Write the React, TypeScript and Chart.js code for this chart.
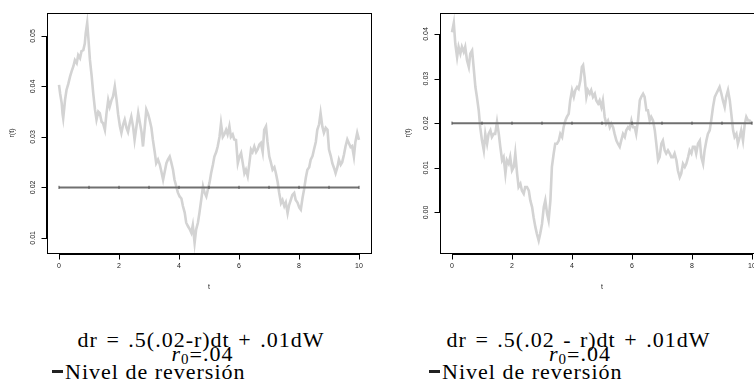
import React, { useEffect, useRef } from "react";
import { Chart, registerables } from "chart.js";

Chart.register(...registerables);

// ---------- data ----------
const T_LEFT = [0.00,0.04,0.09,0.12,0.14,0.18,0.20,0.25,0.31,0.37,0.42,0.48,0.53,0.59,0.64,0.70,0.75,0.81,0.86,0.89,0.94,0.98,1.03,1.09,1.14,1.20,1.25,1.31,1.36,1.42,1.47,1.53,1.58,1.64,1.69,1.75,1.80,1.86,1.92,1.97,2.03,2.08,2.14,2.19,2.25,2.30,2.36,2.41,2.47,2.52,2.58,2.64,2.69,2.75,2.80,2.86,2.91,2.97,3.02,3.08,3.13,3.19,3.24,3.30,3.36,3.41,3.47,3.52,3.58,3.63,3.69,3.74,3.80,3.85,3.91,3.96,4.02,4.08,4.13,4.19,4.24,4.30,4.35,4.41,4.46,4.52,4.57,4.63,4.68,4.74,4.80,4.85,4.91,4.96,5.02,5.07,5.13,5.18,5.24,5.29,5.35,5.40,5.46,5.51,5.57,5.62,5.68,5.73,5.79,5.84,5.90,5.96,6.01,6.07,6.12,6.18,6.23,6.29,6.34,6.40,6.45,6.51,6.57,6.62,6.68,6.73,6.79,6.84,6.90,6.95,7.01,7.06,7.12,7.18,7.23,7.29,7.34,7.40,7.45,7.51,7.56,7.62,7.67,7.73,7.78,7.84,7.89,7.95,8.01,8.06,8.12,8.17,8.23,8.28,8.34,8.39,8.45,8.50,8.56,8.61,8.67,8.72,8.78,8.83,8.89,8.95,9.00,9.06,9.11,9.17,9.22,9.28,9.33,9.39,9.44,9.50,9.55,9.61,9.66,9.72,9.77,9.83,9.88,9.94,10.00];
const R_LEFT = [0.0403,0.0385,0.0367,0.0345,0.0337,0.0360,0.0373,0.0393,0.0405,0.0420,0.0430,0.0440,0.0452,0.0446,0.0462,0.0456,0.0470,0.0472,0.0485,0.0505,0.0526,0.0495,0.0453,0.0420,0.0387,0.0354,0.0334,0.0350,0.0347,0.0330,0.0327,0.0314,0.0345,0.0373,0.0360,0.0373,0.0380,0.0400,0.0373,0.0345,0.0321,0.0308,0.0325,0.0334,0.0318,0.0310,0.0328,0.0340,0.0320,0.0294,0.0320,0.0347,0.0330,0.0310,0.0281,0.0320,0.0354,0.0345,0.0334,0.0318,0.0294,0.0270,0.0248,0.0255,0.0245,0.0232,0.0215,0.0230,0.0248,0.0255,0.0261,0.0250,0.0235,0.0215,0.0202,0.0190,0.0182,0.0178,0.0163,0.0150,0.0130,0.0123,0.0118,0.0110,0.0125,0.0090,0.0116,0.0130,0.0149,0.0175,0.0202,0.0190,0.0182,0.0195,0.0210,0.0228,0.0245,0.0261,0.0270,0.0281,0.0300,0.0327,0.0300,0.0305,0.0314,0.0305,0.0321,0.0300,0.0305,0.0295,0.0294,0.0248,0.0260,0.0268,0.0250,0.0228,0.0235,0.0222,0.0245,0.0275,0.0270,0.0281,0.0270,0.0275,0.0285,0.0288,0.0270,0.0314,0.0321,0.0290,0.0261,0.0250,0.0235,0.0240,0.0228,0.0210,0.0189,0.0169,0.0175,0.0163,0.0170,0.0149,0.0165,0.0176,0.0185,0.0189,0.0175,0.0170,0.0160,0.0156,0.0180,0.0196,0.0220,0.0235,0.0240,0.0255,0.0262,0.0275,0.0290,0.0314,0.0325,0.0347,0.0320,0.0308,0.0318,0.0314,0.0275,0.0262,0.0248,0.0238,0.0228,0.0240,0.0255,0.0245,0.0250,0.0265,0.0281,0.0295,0.0288,0.0280,0.0282,0.0261,0.0290,0.0308,0.0294];

const T_RIGHT = [0.00,0.06,0.11,0.17,0.22,0.28,0.33,0.39,0.44,0.50,0.56,0.61,0.67,0.72,0.78,0.83,0.89,0.94,1.00,1.06,1.11,1.17,1.22,1.28,1.33,1.39,1.44,1.50,1.56,1.61,1.67,1.72,1.78,1.83,1.89,1.94,2.00,2.06,2.11,2.17,2.22,2.28,2.33,2.39,2.44,2.50,2.56,2.61,2.67,2.72,2.78,2.83,2.89,2.94,3.00,3.06,3.11,3.17,3.22,3.28,3.33,3.39,3.44,3.50,3.56,3.61,3.67,3.72,3.78,3.83,3.89,3.94,4.00,4.06,4.11,4.17,4.22,4.28,4.33,4.37,4.42,4.48,4.53,4.59,4.64,4.70,4.76,4.81,4.87,4.92,4.98,5.03,5.09,5.14,5.20,5.26,5.31,5.37,5.42,5.48,5.53,5.59,5.64,5.70,5.76,5.81,5.87,5.92,5.98,6.03,6.09,6.14,6.20,6.26,6.31,6.37,6.42,6.48,6.53,6.59,6.64,6.70,6.76,6.81,6.87,6.92,6.98,7.03,7.09,7.14,7.20,7.26,7.31,7.37,7.42,7.48,7.53,7.59,7.64,7.70,7.76,7.81,7.87,7.92,7.98,8.03,8.09,8.14,8.20,8.26,8.31,8.37,8.42,8.48,8.53,8.59,8.64,8.70,8.76,8.81,8.87,8.92,8.98,9.03,9.09,9.14,9.20,9.26,9.31,9.37,9.42,9.48,9.53,9.59,9.64,9.70,9.76,9.81,9.87,9.92,10.00];
const R_RIGHT = [0.0404,0.0425,0.0378,0.0348,0.0371,0.0356,0.0371,0.0360,0.0371,0.0341,0.0326,0.0356,0.0363,0.0326,0.0281,0.0259,0.0229,0.0191,0.0161,0.0139,0.0176,0.0154,0.0176,0.0184,0.0169,0.0176,0.0176,0.0203,0.0176,0.0147,0.0117,0.0124,0.0087,0.0117,0.0109,0.0124,0.0094,0.0102,0.0132,0.0087,0.0057,0.0064,0.0049,0.0042,0.0057,0.0057,0.0049,0.0027,0.0012,-0.0011,-0.0033,-0.0048,-0.0063,-0.0048,-0.0026,0.0012,0.0027,-0.0003,-0.0018,0.0027,0.0102,0.0132,0.0154,0.0154,0.0161,0.0176,0.0169,0.0191,0.0206,0.0214,0.0221,0.0251,0.0274,0.0259,0.0274,0.0281,0.0277,0.0296,0.0326,0.0330,0.0304,0.0259,0.0274,0.0266,0.0274,0.0259,0.0266,0.0251,0.0244,0.0251,0.0236,0.0251,0.0214,0.0199,0.0206,0.0191,0.0199,0.0191,0.0176,0.0161,0.0154,0.0147,0.0161,0.0176,0.0169,0.0184,0.0191,0.0187,0.0206,0.0191,0.0191,0.0176,0.0206,0.0251,0.0259,0.0266,0.0259,0.0229,0.0229,0.0206,0.0214,0.0206,0.0184,0.0154,0.0117,0.0124,0.0154,0.0161,0.0139,0.0132,0.0139,0.0132,0.0124,0.0124,0.0132,0.0117,0.0094,0.0079,0.0087,0.0109,0.0102,0.0109,0.0124,0.0139,0.0132,0.0147,0.0147,0.0132,0.0154,0.0161,0.0124,0.0109,0.0139,0.0161,0.0176,0.0184,0.0206,0.0236,0.0259,0.0266,0.0274,0.0281,0.0266,0.0251,0.0236,0.0259,0.0274,0.0251,0.0221,0.0184,0.0169,0.0176,0.0154,0.0169,0.0184,0.0161,0.0199,0.0214,0.0206,0.0206,0.0199];

const REV_T = [0,1,2,3,4,5,6,7,8,9,10];
const REV_LEVEL = [0.02,0.02,0.02,0.02,0.02,0.02,0.02,0.02,0.02,0.02,0.02];

const X_TICKS = [0, 2, 4, 6, 8, 10];
const Y_TICKS_LEFT = [0.01, 0.02, 0.03, 0.04, 0.05];
const Y_TICKS_RIGHT = [0.0, 0.01, 0.02, 0.03, 0.04];
const X_TITLE = "t";
const Y_TITLE = "r(t)";

type PanelCfg = {
  t: number[];
  r: number[];
  yMin: number;
  yMax: number;
  yTicks: number[];
  width: number;
  padLeft: number;
  padRight: number;
  yTitleOffset: number;
};

function makeAxesPlugin(cfg: PanelCfg) {
  return {
    id: "rStyleAxes",
    afterDraw(chart: any) {
      const { ctx, chartArea: a, scales } = chart;
      const xs = scales.x;
      const ys = scales.y;
      ctx.save();
      ctx.strokeStyle = "#000";
      ctx.lineWidth = 1;
      const L = Math.round(a.left) + 0.5;
      const T = Math.round(a.top) + 0.5;
      const R = Math.round(a.right) + 0.5;
      const B = Math.round(a.bottom) + 0.5;
      ctx.strokeRect(L, T, R - L, B - T);

      // x axis
      const xa = Math.round(xs.getPixelForValue(X_TICKS[0])) + 0.5;
      const xb = Math.round(xs.getPixelForValue(X_TICKS[X_TICKS.length - 1])) + 0.5;
      ctx.beginPath();
      ctx.moveTo(xa, B + 1);
      ctx.lineTo(xb, B + 1);
      X_TICKS.forEach((v) => {
        const px = Math.round(xs.getPixelForValue(v)) + 0.5;
        ctx.moveTo(px, B);
        ctx.lineTo(px, B + 6);
      });
      ctx.stroke();

      ctx.fillStyle = "#222";
      ctx.font = '7px "Liberation Sans", Arial, sans-serif';
      ctx.textAlign = "center";
      ctx.textBaseline = "middle";
      X_TICKS.forEach((v) => {
        ctx.fillText(String(v), xs.getPixelForValue(v), B + 13);
      });
      ctx.fillText(X_TITLE, (a.left + a.right) / 2, B + 34);

      // y axis
      const ya = Math.round(ys.getPixelForValue(cfg.yTicks[0])) + 0.5;
      const yb = Math.round(ys.getPixelForValue(cfg.yTicks[cfg.yTicks.length - 1])) + 0.5;
      ctx.beginPath();
      ctx.moveTo(L - 1, ya);
      ctx.lineTo(L - 1, yb);
      cfg.yTicks.forEach((v) => {
        const py = Math.round(ys.getPixelForValue(v)) + 0.5;
        ctx.moveTo(L, py);
        ctx.lineTo(L - 6, py);
      });
      ctx.stroke();

      cfg.yTicks.forEach((v) => {
        const py = ys.getPixelForValue(v);
        ctx.save();
        ctx.translate(a.left - 13.5, py);
        ctx.rotate(-Math.PI / 2);
        ctx.fillText(v.toFixed(2), 0, 0);
        ctx.restore();
      });
      ctx.save();
      ctx.translate(a.left - cfg.yTitleOffset, (a.top + a.bottom) / 2);
      ctx.rotate(-Math.PI / 2);
      ctx.fillText(Y_TITLE, 0, 0);
      ctx.restore();

      ctx.restore();
    },
  };
}

function Panel({ cfg }: { cfg: PanelCfg }) {
  const ref = useRef<HTMLCanvasElement | null>(null);
  useEffect(() => {
    if (!ref.current) return;
    const series = cfg.t.map((t, i) => ({ x: t, y: cfg.r[i] }));
    const rev = REV_T.map((t, i) => ({ x: t, y: REV_LEVEL[i] }));
    const chart = new Chart(ref.current, {
      type: "line",
      data: {
        datasets: [
          {
            data: series,
            borderColor: "#d3d3d3",
            borderWidth: 2.6,
            pointRadius: 0,
            tension: 0,
            order: 2,
          },
          {
            data: rev,
            borderColor: "#707070",
            borderWidth: 2,
            pointRadius: 1.6,
            pointStyle: "line",
            rotation: 90,
            pointBorderColor: "#555",
            pointBorderWidth: 1,
            tension: 0,
            order: 1,
          },
        ],
      },
      options: {
        animation: false,
        responsive: false,
        devicePixelRatio: 1,
        layout: {
          padding: { left: cfg.padLeft, right: cfg.padRight, top: 13, bottom: 47 },
        },
        plugins: { legend: { display: false }, tooltip: { enabled: false } },
        scales: {
          x: { type: "linear", display: false, min: -0.4, max: 10.4 },
          y: { type: "linear", display: false, min: cfg.yMin, max: cfg.yMax },
        },
      },
      plugins: [makeAxesPlugin(cfg)],
    } as any);
    return () => chart.destroy();
  }, [cfg]);
  return <canvas ref={ref} width={cfg.width} height={300} />;
}

const LEFT_CFG: PanelCfg = {
  t: T_LEFT,
  r: R_LEFT,
  yMin: 0.0070,
  yMax: 0.05455,
  yTicks: Y_TICKS_LEFT,
  width: 377,
  padLeft: 47,
  padRight: 6,
  yTitleOffset: 34.5,
};

const RIGHT_CFG: PanelCfg = {
  t: T_RIGHT,
  r: R_RIGHT,
  yMin: -0.0091,
  yMax: 0.0447,
  yTicks: Y_TICKS_RIGHT,
  width: 400,
  padLeft: 63,
  padRight: 13,
  yTitleOffset: 31.5,
};

const serif = '"Liberation Serif", "Times New Roman", serif';

function Caption({ center, lineStart, eq }: { center: number; lineStart: number; eq: string }) {
  const base: React.CSSProperties = {
    position: "absolute",
    fontFamily: serif,
    fontSize: 22,
    lineHeight: "22px",
    color: "#000",
    whiteSpace: "nowrap",
    letterSpacing: "1px",
  };
  return (
    <>
      <div style={{ ...base, left: center - 200, width: 400, textAlign: "center", top: 329, wordSpacing: "2px" }}>{eq}</div>
      <div style={{ ...base, left: center + 1.5 - 200, width: 400, textAlign: "center", top: 342.5 }}>
        <i>r</i>
        <span style={{ fontSize: 15, position: "relative", top: 3 }}>0</span>
        <span style={{ position: "relative", top: 1 }}>=</span>.04
      </div>
      <div style={{ ...base, left: lineStart, top: 360.5 }}>
        <span
          style={{
            display: "inline-block",
            width: 11,
            height: 3,
            background: "#222",
            verticalAlign: "middle",
            marginRight: 2,
            position: "relative",
            top: -2,
          }}
        />
        Nivel de reversión
      </div>
    </>
  );
}

export default function App() {
  return (
    <div
      style={{
        position: "fixed",
        left: 0,
        top: 0,
        width: 754,
        height: 381,
        overflow: "hidden",
        background: "#fff",
      }}
    >
      <div style={{ position: "absolute", left: 0, top: 0 }}>
        <Panel cfg={LEFT_CFG} />
      </div>
      <div style={{ position: "absolute", left: 377, top: 0 }}>
        <Panel cfg={RIGHT_CFG} />
      </div>
      <Caption center={201} lineStart={52} eq="dr = .5(.02-r)dt + .01dW" />
      <Caption center={578.5} lineStart={429} eq="dr = .5(.02 - r)dt + .01dW" />
    </div>
  );
}
